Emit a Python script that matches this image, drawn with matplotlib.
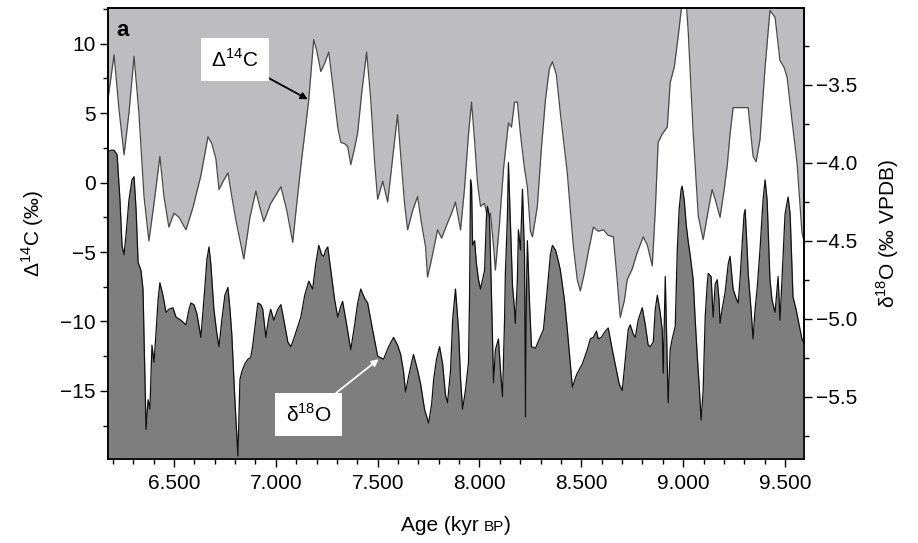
import matplotlib
matplotlib.use("Agg")
import matplotlib.pyplot as plt
from matplotlib.ticker import MultipleLocator, FuncFormatter
from matplotlib.offsetbox import TextArea, HPacker, AnchoredOffsetbox

plt.rcParams['font.family'] = ['Liberation Sans', 'DejaVu Sans']
plt.rcParams['mathtext.fontset'] = 'custom'
plt.rcParams['mathtext.rm'] = 'Liberation Sans'

# Delta14C record (age in yr BP, permil)
age_c14 = [6176, 6206, 6230, 6255, 6279, 6304, 6328, 6353, 6377, 6402, 6431, 6451, 6475, 6500,
           6525, 6559, 6593, 6632, 6667, 6686, 6706, 6721, 6745, 6765, 6784, 6804, 6843, 6873,
           6902, 6922, 6941, 6975, 7025, 7054, 7083, 7103, 7123, 7142, 7162, 7176, 7186, 7201,
           7221, 7240, 7260, 7284, 7304, 7319, 7338, 7353, 7368, 7387, 7402, 7422, 7446, 7466,
           7485, 7500, 7525, 7549, 7564, 7583, 7598, 7613, 7632, 7647, 7672, 7696, 7716, 7735,
           7745, 7765, 7794, 7814, 7843, 7863, 7882, 7907, 7926, 7946, 7961, 7976, 7990, 8005,
           8025, 8039, 8054, 8069, 8078, 8098, 8118, 8142, 8157, 8172, 8186, 8201, 8221, 8235,
           8250, 8260, 8275, 8284, 8304, 8324, 8343, 8358, 8377, 8397, 8417, 8431, 8446, 8461,
           8480, 8495, 8515, 8534, 8559, 8583, 8608, 8632, 8657, 8676, 8691, 8711, 8725, 8750,
           8775, 8804, 8824, 8848, 8863, 8877, 8897, 8922, 8936, 8956, 8976, 8990, 9000, 9015,
           9025, 9049, 9074, 9098, 9123, 9142, 9157, 9181, 9201, 9216, 9230, 9245, 9319, 9343,
           9358, 9377, 9402, 9426, 9436, 9451, 9475, 9495, 9510, 9534, 9559, 9583, 9598]
d14c = [6.0, 9.2, 5.3, 2.0, 5.0, 9.1, 5.0, -1.0, -4.2, -1.5, 1.9, -1.0, -3.2, -2.2,
        -2.5, -3.4, -1.8, 0.5, 3.3, 2.8, 1.7, -0.5, 0.2, 0.7, -1.0, -2.7, -5.5, -2.5,
        -0.6, -1.8, -2.8, -1.5, -0.3, -2.0, -4.3, -1.5, 1.2, 3.5, 6.0, 8.5, 10.3, 9.5,
        8.0, 8.6, 9.4, 6.5, 4.0, 2.9, 2.8, 2.6, 1.3, 2.5, 3.6, 6.5, 9.4, 6.0,
        1.5, -1.2, 0.1, -1.4, 0.5, 3.0, 4.9, 2.0, -1.5, -3.4, -2.0, -1.0, -3.0, -4.6,
        -6.8, -5.5, -3.4, -4.0, -2.9, -2.2, -1.4, -3.4, -0.5, 3.5, 5.8, 3.0, 0.0, -1.7,
        -1.5, -2.5, -2.2, -4.6, -6.3, -3.0, 1.0, 4.3, 4.0, 5.8, 5.8, 3.5, 1.0, -0.3,
        -3.5, -3.9, -2.5, -1.7, 2.5, 6.0, 8.2, 8.7, 7.8, 5.0, 2.5, 0.7, -2.0, -4.6,
        -7.0, -7.8, -6.5, -5.0, -3.2, -3.5, -3.4, -3.8, -3.9, -7.0, -9.7, -8.5, -7.0, -6.2,
        -5.0, -3.9, -4.5, -6.0, -2.0, 2.9, 3.5, 4.0, 7.2, 8.3, 10.6, 12.4, 13.0, 13.0,
        10.8, 3.6, -2.4, -4.1, -2.0, -0.5, -1.2, -2.5, -0.5, 1.2, 3.5, 5.4, 5.4, 1.9,
        1.5, 3.1, 8.3, 12.4, 12.2, 11.9, 8.8, 8.3, 7.6, 4.5, 1.4, -3.6, -4.5]

# delta18O record (age in yr BP, permil VPDB)
age_o18 = [6176, 6191, 6206, 6221, 6235, 6245, 6255, 6265, 6279, 6294, 6304, 6314, 6324, 6338,
           6348, 6358, 6363, 6373, 6382, 6392, 6402, 6412, 6422, 6431, 6446, 6461, 6475, 6495,
           6510, 6534, 6559, 6574, 6583, 6598, 6613, 6632, 6647, 6662, 6672, 6681, 6696, 6711,
           6721, 6735, 6750, 6765, 6775, 6784, 6799, 6814, 6824, 6833, 6848, 6863, 6877, 6887,
           6902, 6912, 6926, 6936, 6951, 6966, 6975, 6990, 7010, 7025, 7044, 7059, 7074, 7088,
           7103, 7123, 7142, 7162, 7181, 7196, 7211, 7225, 7235, 7245, 7255, 7270, 7289, 7304,
           7319, 7328, 7348, 7368, 7387, 7402, 7417, 7436, 7451, 7475, 7500, 7515, 7529, 7554,
           7578, 7598, 7613, 7627, 7637, 7652, 7667, 7676, 7686, 7696, 7711, 7730, 7750, 7765,
           7775, 7789, 7804, 7819, 7833, 7843, 7858, 7868, 7882, 7897, 7907, 7917, 7931, 7946,
           7951, 7956, 7961, 7966, 7976, 7985, 7995, 8005, 8015, 8025, 8034, 8039, 8049, 8059,
           8069, 8078, 8093, 8103, 8113, 8123, 8127, 8137, 8142, 8152, 8162, 8172, 8176, 8186,
           8191, 8201, 8211, 8221, 8226, 8230, 8235, 8245, 8255, 8275, 8294, 8314, 8333, 8348,
           8358, 8373, 8387, 8397, 8417, 8431, 8446, 8456, 8471, 8480, 8505, 8529, 8544, 8559,
           8574, 8583, 8598, 8618, 8632, 8652, 8672, 8686, 8701, 8716, 8730, 8740, 8755, 8765,
           8779, 8799, 8814, 8828, 8838, 8853, 8863, 8873, 8887, 8897, 8902, 8912, 8926, 8936,
           8946, 8961, 8971, 8980, 8990, 8995, 9005, 9015, 9025, 9034, 9049, 9059, 9069, 9078,
           9088, 9098, 9108, 9118, 9123, 9137, 9147, 9157, 9167, 9176, 9181, 9191, 9206, 9221,
           9230, 9245, 9260, 9270, 9279, 9289, 9299, 9304, 9314, 9319, 9333, 9343, 9353, 9363,
           9377, 9392, 9402, 9412, 9426, 9436, 9451, 9461, 9466, 9475, 9485, 9500, 9515, 9525,
           9539, 9554, 9569, 9583, 9598]
d18o = [-3.93, -3.92, -3.92, -3.95, -4.24, -4.53, -4.59, -4.46, -4.24, -4.11, -4.09, -4.30, -4.64, -4.69,
        -4.81, -5.39, -5.71, -5.52, -5.58, -5.17, -5.28, -5.09, -4.88, -4.77, -4.85, -4.96, -4.94, -4.93,
        -4.99, -5.01, -5.04, -4.94, -4.90, -4.91, -4.97, -5.12, -4.88, -4.62, -4.54, -4.65, -4.94, -5.10,
        -5.18, -5.01, -4.85, -4.80, -4.94, -5.10, -5.52, -5.88, -5.39, -5.34, -5.29, -5.26, -5.25, -5.17,
        -5.01, -4.90, -4.91, -4.94, -5.12, -4.99, -4.94, -5.01, -4.94, -4.91, -5.04, -5.15, -5.18, -5.13,
        -5.07, -4.99, -4.85, -4.76, -4.81, -4.65, -4.53, -4.59, -4.60, -4.56, -4.54, -4.69, -4.88, -4.99,
        -4.92, -4.89, -5.04, -5.20, -5.04, -4.90, -4.81, -4.87, -4.90, -5.07, -5.24, -5.25, -5.26, -5.18,
        -5.12, -5.17, -5.23, -5.34, -5.47, -5.37, -5.28, -5.23, -5.28, -5.33, -5.42, -5.58, -5.67, -5.55,
        -5.39, -5.26, -5.18, -5.29, -5.49, -5.54, -5.33, -5.01, -4.81, -5.07, -5.39, -5.58, -5.46, -5.28,
        -4.88, -4.11, -4.15, -4.53, -4.50, -4.65, -4.75, -4.81, -4.75, -4.69, -4.35, -4.28, -4.35, -4.86,
        -5.41, -5.20, -5.13, -5.33, -5.50, -5.01, -4.71, -4.35, -4.00, -4.40, -4.79, -4.94, -5.03, -4.75,
        -4.43, -4.56, -4.17, -4.60, -5.63, -4.88, -4.50, -4.88, -5.18, -5.19, -5.13, -5.07, -4.81, -4.59,
        -4.53, -4.56, -4.63, -4.69, -4.88, -5.07, -5.29, -5.44, -5.38, -5.35, -5.29, -5.20, -5.13, -5.12,
        -5.08, -5.13, -5.12, -5.08, -5.06, -5.20, -5.33, -5.42, -5.46, -5.26, -5.07, -5.04, -5.10, -5.12,
        -5.01, -4.93, -5.04, -5.17, -5.18, -5.15, -4.94, -4.85, -4.96, -5.07, -5.35, -4.73, -5.54, -5.20,
        -5.13, -5.05, -4.56, -4.30, -4.17, -4.15, -4.24, -4.40, -4.51, -4.59, -4.75, -5.01, -5.24, -5.42,
        -5.65, -5.46, -4.99, -4.78, -4.71, -4.73, -4.99, -4.78, -4.75, -4.88, -5.03, -4.94, -4.83, -4.65,
        -4.60, -4.81, -4.87, -4.90, -4.75, -4.53, -4.33, -4.30, -4.56, -4.71, -4.94, -5.13, -4.94, -4.81,
        -4.56, -4.24, -4.11, -4.24, -4.75, -4.88, -4.96, -4.81, -4.73, -5.01, -4.75, -4.33, -4.22, -4.33,
        -4.86, -4.94, -5.04, -5.13, -5.17]

c14_lim = (-19.9, 12.55)
o18_lim = (-5.90, -3.01)

fig = plt.figure(figsize=(9.18, 5.43), dpi=100)
ax = fig.add_axes([0.1176, 0.1547, 0.7582, 0.8300])
ax2 = ax.twinx()

ax.fill_between(age_c14, d14c, c14_lim[1], color='#bdbdc1', lw=0, zorder=1)
ax.plot(age_c14, d14c, color='#4a4a4a', lw=0.9, zorder=2)
ax2.fill_between(age_o18, d18o, o18_lim[0], color='#7e7e7e', lw=0, zorder=1)
ax2.plot(age_o18, d18o, color='#111111', lw=0.9, zorder=2)

ax.set_xlim(6176, 9593)
ax.set_ylim(*c14_lim)
ax2.set_ylim(*o18_lim)

ax.xaxis.set_major_locator(MultipleLocator(500))
ax.xaxis.set_minor_locator(MultipleLocator(100))
ax.xaxis.set_major_formatter(FuncFormatter(lambda v, p: f"{v / 1000:.3f}"))
ax.yaxis.set_major_locator(MultipleLocator(5))
ax.yaxis.set_minor_locator(MultipleLocator(2.5))
ax2.yaxis.set_major_locator(MultipleLocator(0.5))
ax2.yaxis.set_minor_locator(MultipleLocator(0.25))
ax2.yaxis.set_major_formatter(FuncFormatter(lambda v, p: f"{v:.1f}".replace('-', '\u2212')))

for a in (ax, ax2):
    a.tick_params(which='major', direction='out', length=6, width=1, labelsize=15, pad=3)
    a.tick_params(which='minor', direction='out', length=3.5, width=1)
    for s in a.spines.values():
        s.set_linewidth(1.2)
ax.tick_params(axis='x', pad=5)

ax.set_ylabel('Δ$^{\\mathregular{14}}$C (‰)', fontsize=15, labelpad=10)
ax2.set_ylabel('δ$^{\\mathregular{18}}$O (‰ VPDB)', fontsize=15, labelpad=12)

parts = [TextArea('Age (kyr ', textprops=dict(size=15)),
         TextArea('BP', textprops=dict(size=11)),
         TextArea(')', textprops=dict(size=15))]
xl = HPacker(children=parts, align='baseline', pad=0, sep=0)
ax.add_artist(AnchoredOffsetbox(loc='upper center', child=xl, frameon=False,
                                bbox_to_anchor=(0.5, -0.115), bbox_transform=ax.transAxes,
                                borderpad=0))

ax.text(0.012, 0.975, 'a', transform=ax.transAxes, fontsize=16, fontweight='bold',
        va='top', ha='left', zorder=5)

ax.annotate('Δ$^{\\mathregular{14}}$C', xy=(7157, 6.0), xytext=(6799, 8.85), fontsize=15,
            ha='center', va='center', zorder=6,
            bbox=dict(boxstyle='square,pad=0.5', fc='white', ec='none'),
            arrowprops=dict(arrowstyle='-|>', color='black', lw=1.3, shrinkA=0, shrinkB=0,
                            mutation_scale=10))
ax2.annotate('δ$^{\\mathregular{18}}$O', xy=(7505, -5.26), xytext=(7162, -5.615), fontsize=15,
             ha='center', va='center', zorder=6,
             bbox=dict(boxstyle='square,pad=0.5', fc='white', ec='none'),
             arrowprops=dict(arrowstyle='-|>', color='white', lw=1.3, shrinkA=0, shrinkB=0,
                             mutation_scale=10))

fig.savefig('out.png', dpi=100)
